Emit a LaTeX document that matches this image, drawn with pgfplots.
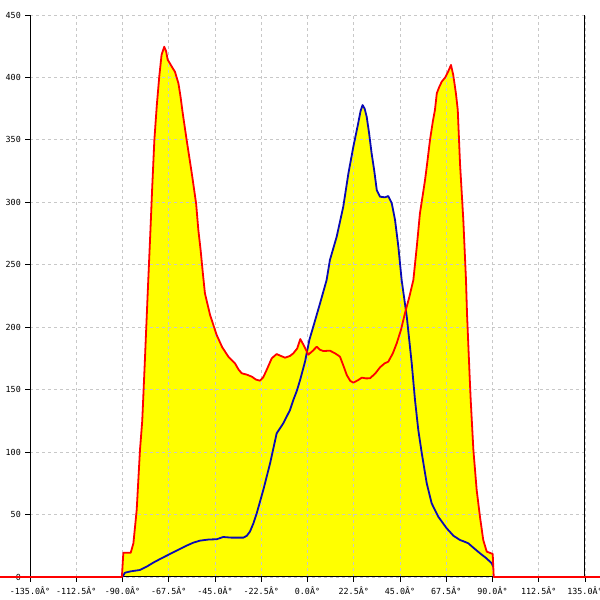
\documentclass[border=0pt]{standalone}
\usepackage{pgfplots}
\pgfplotsset{compat=1.18}
\usepackage{fontspec}
\newfontfamily\monofont{DejaVu Sans Mono}
\definecolor{redline}{RGB}{255,0,0}
\definecolor{blueline}{RGB}{10,10,180}
\definecolor{gridgray}{RGB}{200,200,200}
\definecolor{fillyellow}{RGB}{255,255,0}

\pgfplotstableread{
x y
-149.6 0
-90.3 0
-89.6 19.4
-86.0 19.4
-84.7 27
-83.1 53.6
-81.5 101.7
-80.4 125
-79.2 170
-77.8 225
-76.4 278
-75.6 310
-74.5 350
-73.3 378
-72.1 401
-71.0 418
-69.7 424.6
-68.8 421
-68.0 414
-67.2 412
-65.8 408
-64.5 404.6
-62.8 395.3
-61.8 385
-60.7 371.3
-58.8 350
-56.3 323.2
-54.2 299.2
-53.1 277.8
-52.0 261.8
-50.9 243
-49.9 227.1
-47.4 209.8
-44.2 193.8
-41.5 184
-38.5 176.4
-35.3 171.1
-33.5 166
-32.0 163.1
-29.5 162
-27.1 160.4
-25.0 158
-23.1 157.2
-21.5 160
-19.9 165.7
-17.4 175.1
-15.0 178.5
-13.0 177
-10.9 175.6
-8.5 177
-6.9 179.1
-5.0 183
-3.5 190.5
-2.0 186
0.4 178
2.5 181
4.5 184.4
6.0 182
7.7 180.9
10.9 181.2
13.5 179
15.8 176.4
17.5 169
19.1 161.7
20.8 157
22.3 155.6
24.5 157.5
26.4 159.6
28.5 159
30.4 159.1
33.0 163
35.3 167.9
37.5 171
39.3 172.4
41.5 179
43.4 187.1
45.5 198
47.4 211.1
49.5 224
51.5 237.8
53.2 265
54.7 291.2
56.0 305
57.2 318
58.5 335
59.6 350
61.0 365
62.0 373.9
62.9 387.3
64.0 392
65.3 396.6
67.0 400
68.5 405
69.8 410
70.9 402
72.2 387.3
73.1 374
74.2 331
75.8 286
77.1 238
77.6 211
78.9 160
79.4 141.7
80.7 101.7
82.3 69.7
83.9 48.3
85.5 29.6
87.2 20.3
90.1 18.4
90.6 0
142.3 0
}\redtable

\pgfplotstableread{
x y
-90.1 0
-88.8 3.4
-86.0 4.5
-81.5 5.6
-78.0 8.5
-75.0 11.5
-71.0 15
-66.9 18.4
-62.8 21.8
-58.8 25.1
-55.5 27.5
-52.3 29.1
-48.0 30
-44.2 30.2
-41.0 32
-37.0 31.5
-31.2 31.5
-29.5 33
-28.0 36.3
-26.3 43
-24.7 51
-21.5 69.7
-18.2 91
-15.0 115
-11.8 123
-8.5 133.7
-6.9 141.7
-5.2 149
-3.6 157.7
-1.2 172.4
0.9 189.8
2.8 200.4
6.1 219.1
9.3 237.8
10.9 253.8
14.2 272.5
17.4 296.5
19.9 323.2
22.3 344.5
24.5 362
25.8 373
26.8 377.9
27.8 375
28.8 368.5
30.0 355
31.2 339.2
32.5 325
33.7 309.8
35.3 304.5
37.7 304
39.3 305
41.0 299.2
42.6 285.8
44.2 264.5
45.8 237.8
48.3 208.4
50.7 171.1
52.3 141.7
53.9 117.7
55.6 99
58.0 75
60.4 59
63.6 48.3
67.7 39
71.0 33
74.2 29.6
76.0 28.5
78.2 27
81.0 23
83.9 19
87.0 15
89.6 11
90.4 8
}\bluetable

\begin{document}
\begin{tikzpicture}
\begin{axis}[
  set layers,
  scale only axis,
  width=555bp, height=562bp,
  xmin=-135, xmax=135, ymin=0, ymax=450,
  clip=false,
  axis x line=bottom, axis y line=box,
  axis line style={-, line width=1bp, black},
  xtick={-135,-112.5,-90,-67.5,-45,-22.5,0,22.5,45,67.5,90,112.5,135},
  xticklabels={-135.0Â°,-112.5Â°,-90.0Â°,-67.5Â°,-45.0Â°,-22.5Â°,0.0Â°,22.5Â°,45.0Â°,67.5Â°,90.0Â°,112.5Â°,135.0Â°},
  ytick={0,50,100,150,200,250,300,350,400,450},
  ytick pos=left, xtick pos=bottom,
  tick align=outside,
  major tick length=5bp,
  tick style={black, line width=0.8bp},
  grid=major,
  major grid style={gridgray, dash pattern=on 3bp off 3bp, line width=0.8bp},
  tick label style={font=\monofont\fontsize{8.4}{9}\selectfont, black},
  /pgf/number format/assume math mode=true,
  xticklabel style={inner sep=1bp, yshift=-3.5bp},
  yticklabel style={inner sep=1bp, xshift=-3bp},
]
\addplot[draw=none, fill=fillyellow, on layer=axis background] table[x=x,y=y] {\bluetable} \closedcycle;
\addplot[draw=none, fill=fillyellow, on layer=axis background] table[x=x,y=y] {\redtable} \closedcycle;
\addplot[blueline, line width=1.8bp, line join=round] table[x=x,y=y] {\bluetable};
\addplot[redline, line width=1.8bp, line join=round] table[x=x,y=y] {\redtable};
\coordinate (bbsw) at (axis cs:-149.6,-18.4);
\coordinate (bbne) at (axis cs:142.3,462);
\end{axis}
\pgfresetboundingbox
\useasboundingbox (bbsw) rectangle (bbne);
\end{tikzpicture}
\end{document}
